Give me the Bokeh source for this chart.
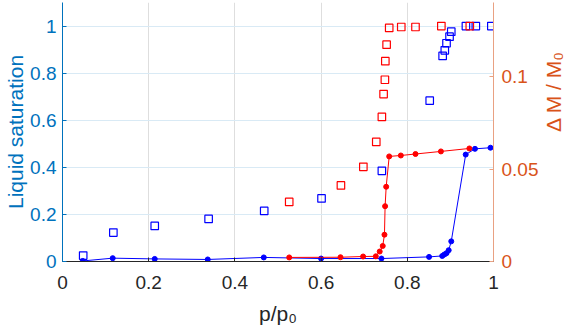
import math
from bokeh.plotting import figure
from bokeh.models import Range1d, LinearAxis, FixedTicker
from bokeh.embed import file_html
from bokeh.resources import INLINE

# ---- data ----
# Liquid saturation (left axis), squares
ads_sat_x = [0.048, 0.118, 0.214, 0.339, 0.468, 0.601, 0.741, 0.852, 0.882, 0.887, 0.891, 0.898, 0.902, 0.936, 0.959, 0.995]
ads_sat_y = [0.025, 0.123, 0.151, 0.181, 0.215, 0.268, 0.385, 0.683, 0.873, 0.897, 0.927, 0.955, 0.976, 1.0, 1.0, 1.0]
des_sat_x = [0.526, 0.646, 0.698, 0.728, 0.741, 0.745, 0.748, 0.749, 0.752, 0.758, 0.786, 0.819, 0.879, 0.945]
des_sat_y = [0.253, 0.323, 0.402, 0.508, 0.614, 0.711, 0.772, 0.851, 0.921, 0.992, 0.996, 0.996, 1.0, 1.0]

# Delta M / M0 (right axis), dots with lines
ads_dm_x = [0.047, 0.1165, 0.214, 0.337, 0.467, 0.600, 0.740, 0.8505, 0.881, 0.886, 0.891, 0.896, 0.902, 0.9355, 0.957, 0.993]
ads_dm_y = [0.0003, 0.0018, 0.0014, 0.0011, 0.0022, 0.0016, 0.0016, 0.0025, 0.0030, 0.0038, 0.0045, 0.0061, 0.0109, 0.0578, 0.0609, 0.0615]
des_dm_x = [0.526, 0.645, 0.6975, 0.727, 0.736, 0.743, 0.747, 0.7485, 0.751, 0.758, 0.785, 0.819, 0.878, 0.944]
des_dm_y = [0.0022, 0.0023, 0.0027, 0.0028, 0.0054, 0.0084, 0.0145, 0.0299, 0.0404, 0.0568, 0.0573, 0.0581, 0.0595, 0.0611]

x_ticks = [0, 0.2, 0.4, 0.6, 0.8, 1]
x_tick_labels = ["0", "0.2", "0.4", "0.6", "0.8", "1"]
left_ticks = [0, 0.2, 0.4, 0.6, 0.8, 1]
left_tick_labels = ["0", "0.2", "0.4", "0.6", "0.8", "1"]
right_ticks = [0, 0.05, 0.1]
right_tick_labels = ["0", "0.05", "0.1"]

x_label = "p/p\u2080"
left_label = "Liquid saturation"
right_label = "\u0394 M / M\u2080"

FONT = "Liberation Sans"
BLUE_AX = "#0072BD"
ORANGE_AX = "#D95319"
DARK = "#262626"

W, H = 580, 331
ML, MR, MT, MB = 62, 87, 2, 70

p = figure(width=W, height=H, output_backend="svg", toolbar_location=None,
           x_range=Range1d(0, 1), y_range=Range1d(0, 1.1),
           min_border_left=ML, min_border_right=MR, min_border_top=MT, min_border_bottom=MB)
p.extra_y_ranges = {"right": Range1d(0, 0.14)}
p.outline_line_color = None
p.background_fill_color = "white"

# axes
xa = p.xaxis[0]
xa.ticker = FixedTicker(ticks=x_ticks)
xa.major_label_overrides = dict(zip(x_ticks, x_tick_labels))
ya = p.yaxis[0]
ya.ticker = FixedTicker(ticks=left_ticks)
ya.major_label_overrides = dict(zip(left_ticks, left_tick_labels))
ra = LinearAxis(y_range_name="right", ticker=FixedTicker(ticks=right_ticks))
ra.major_label_overrides = dict(zip(right_ticks, right_tick_labels))
p.add_layout(ra, "right")

for ax, col, lc in [(xa, DARK, DARK), (ya, BLUE_AX, BLUE_AX), (ra, ORANGE_AX, "#E9A182")]:
    ax.axis_line_color = lc
    ax.axis_line_width = 1
    ax.major_tick_line_color = lc
    ax.major_tick_in = 4
    ax.major_tick_out = 0
    ax.minor_tick_line_color = None
    ax.major_label_text_color = col
    ax.major_label_text_font = FONT
    ax.major_label_text_font_size = "19px"
    ax.axis_label_text_color = col
    ax.axis_label_text_font = FONT
    ax.axis_label_text_font_size = "21px"
    ax.axis_label_text_font_style = "normal"

xa.axis_label = x_label
ya.axis_label = left_label
ra.axis_label = right_label
ra.axis_label_orientation = math.pi / 2
xa.major_label_standoff = 14
ya.major_label_standoff = 6
ra.major_label_standoff = 8
xa.axis_label_standoff = 10
ya.axis_label_standoff = 0
ra.axis_label_standoff = 12

p.xgrid.ticker = FixedTicker(ticks=x_ticks)
p.ygrid.ticker = FixedTicker(ticks=left_ticks)
p.xgrid.grid_line_color = "#dedede"
p.ygrid.grid_line_color = "#d9eaf5"

# data
p.line(ads_dm_x, ads_dm_y, y_range_name="right", line_color="blue", line_width=1)
p.scatter(ads_dm_x, ads_dm_y, y_range_name="right", marker="circle", size=5,
          fill_color="blue", line_color="blue")
p.line(des_dm_x, des_dm_y, y_range_name="right", line_color="red", line_width=1)
p.scatter(des_dm_x, des_dm_y, y_range_name="right", marker="circle", size=5,
          fill_color="red", line_color="red")
p.scatter(ads_sat_x, ads_sat_y, marker="square", size=7.5, fill_color=None,
          line_color="blue", line_width=1.2)
p.scatter(des_sat_x, des_sat_y, marker="square", size=7.5, fill_color=None,
          line_color="red", line_width=1.2)

open("out.html", "w").write(file_html(p, INLINE))
